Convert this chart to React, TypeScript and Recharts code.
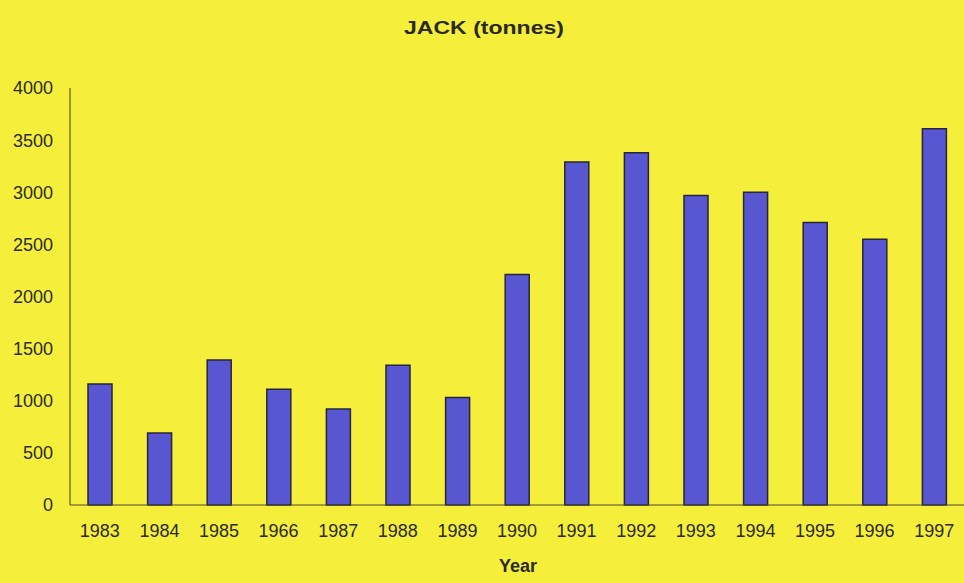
import React from 'react';
import { BarChart, Bar, XAxis, YAxis } from 'recharts';

// Annual jack catch, in tonnes
const years = ['1983', '1984', '1985', '1966', '1987', '1988', '1989', '1990', '1991', '1992', '1993', '1994', '1995', '1996', '1997'];
const tonnes = [1160, 690, 1390, 1110, 920, 1340, 1030, 2210, 3290, 3380, 2970, 3000, 2710, 2550, 3610];
const yTicks = [0, 500, 1000, 1500, 2000, 2500, 3000, 3500, 4000];

const data = years.map((year, i) => ({ year, tonnes: tonnes[i] }));

const BG = '#f5ef3c';
const TEXT = '#2b2a1c';
const FONT = '"Liberation Sans", Arial, sans-serif';

export default function App() {
  return (
    <div style={{ position: 'relative', width: 964, height: 583, background: BG, overflow: 'hidden' }}>
      <style>{'body{margin:0}'}</style>
      <BarChart
        width={964}
        height={583}
        data={data}
        margin={{ top: 88, right: 0, bottom: 0, left: 0 }}
        barCategoryGap={0}
      >
        <YAxis
          width={70}
          domain={[0, 4000]}
          ticks={yTicks}
          interval={0}
          tickLine={false}
          tickSize={0}
          tickMargin={17}
          axisLine={{ stroke: '#3d3c2c', strokeWidth: 1 }}
          tick={{ fill: TEXT, fontSize: 18, fontFamily: FONT }}
        />
        <XAxis
          dataKey="year"
          height={78}
          interval={0}
          tickLine={false}
          tickSize={0}
          tickMargin={19}
          axisLine={{ stroke: '#4a4936', strokeWidth: 1 }}
          tick={{ fill: TEXT, fontSize: 18, fontFamily: FONT }}
        />
        <Bar
          dataKey="tonnes"
          barSize={24}
          fill="#5856d0"
          stroke="#26253a"
          strokeWidth={1.5}
          isAnimationActive={false}
        />
      </BarChart>
      <svg width={964} height={583} style={{ position: 'absolute', left: 0, top: 0, pointerEvents: 'none' }}>
        <text
          x={484}
          y={34}
          textAnchor="middle"
          fontFamily={FONT}
          fontWeight="bold"
          fontSize={18}
          fill={TEXT}
          textLength={160}
          lengthAdjust="spacingAndGlyphs"
        >
          JACK (tonnes)
        </text>
        <text
          x={518}
          y={572}
          textAnchor="middle"
          fontFamily={FONT}
          fontWeight="bold"
          fontSize={18}
          fill={TEXT}
        >
          Year
        </text>
      </svg>
    </div>
  );
}
